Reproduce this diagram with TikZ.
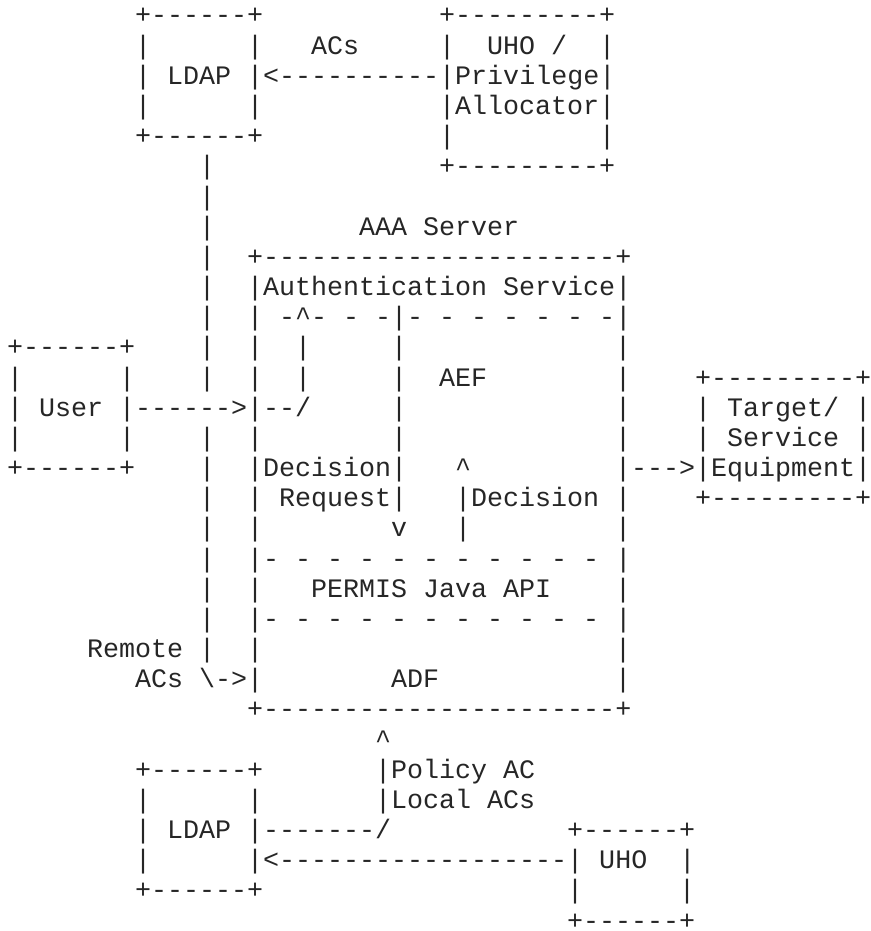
\documentclass[tikz,border=0pt]{standalone}
\usepackage{fontspec}
\setmonofont{Liberation Mono}
\usepackage{tikz}
\tikzset{ascii/.style={anchor=base west, inner sep=0pt, text=black!85, font=\ttfamily\fontsize{26.67}{30}\selectfont}}
\def\asc(#1,#2)#3{\node[ascii] (r#2c#1) at ({7+16*#1}, {24+30.17*#2}) {#3};}

\begin{document}
\begin{tikzpicture}[x=1pt, y=-1pt]
		%%%%% START %%%%%
		\useasboundingbox[fill=white] (0, 0) rectangle (870, 931);
		
		\asc(8,0){+------+} \asc(27,0){+---------+}
		\asc(8,1){|} \asc(15,1){|} \asc(19,1){ACs} \asc(27,1){|~~UHO~/~~|}
		\asc(8,2){| LDAP |<----------|Privilege|}
		\asc(8,3){|} \asc(15,3){|} \asc(27,3){|Allocator|}
		\asc(8,4){+------+} \asc(27,4){|} \asc(37,4){|}
		\asc(12,5){|} \asc(27,5){+---------+}
		\asc(12,6){|}
		\asc(12,7){|} \asc(22,7){AAA Server}
		\asc(12,8){|} \asc(15,8){+----------------------+}
		\asc(12,9){|} \asc(15,9){|Authentication Service|}
		\asc(12,10){|} \asc(15,10){| -\textasciicircum- - -|- - - - - - -|}
		
		\asc(0,11){+------+} \asc(12,11){|} \asc(15,11){|} \asc(18,11){|} \asc(24,11){|} \asc(38,11){|}
		\asc(0,12){|} \asc(7,12){|} \asc(12,12){|} \asc(15,12){|} \asc(18,12){|} \asc(24,12){|}
		\asc(27,12){AEF} \asc(38,12){|} \asc(43,12){+---------+}
		\asc(0,13){| User |------>|--/} \asc(24,13){|} \asc(38,13){|} \asc(43,13){| Target/ |}
		\asc(0,14){|} \asc(7,14){|} \asc(12,14){|} \asc(15,14){|} \asc(24,14){|} \asc(38,14){|}
		\asc(43,14){| Service |}
		\asc(0,15){+------+} \asc(12,15){|} \asc(15,15){|Decision|} \asc(28,15){\textasciicircum}
		\asc(38,15){|--->|Equipment|}
		\asc(12,16){|} \asc(15,16){| Request|} \asc(28,16){|Decision |} \asc(43,16){+---------+}
		\asc(12,17){|} \asc(15,17){|} \asc(24,17){v} \asc(28,17){|} \asc(38,17){|}
		
		\asc(12,18){|} \asc(15,18){|- - - - - - - - - - - |}
		\asc(12,19){|} \asc(15,19){|} \asc(19,19){PERMIS Java API} \asc(38,19){|}
		\asc(12,20){|} \asc(15,20){|- - - - - - - - - - - |}
		\asc(5,21){Remote |} \asc(15,21){|} \asc(38,21){|}
		\asc(8,22){ACs \textbackslash->|} \asc(24,22){ADF} \asc(38,22){|}
		\asc(15,23){+----------------------+}
		
		\asc(23,24){\textasciicircum}
		\asc(8,25){+------+} \asc(23,25){|Policy AC}
		\asc(8,26){|} \asc(15,26){|} \asc(23,26){|Local ACs}
		\asc(8,27){| LDAP |-------/} \asc(35,27){+------+}
		\asc(8,28){|} \asc(15,28){|<------------------| UHO~~|}
		\asc(8,29){+------+} \asc(35,29){|} \asc(42,29){|}
		\asc(35,30){+------+}
		%%%%% END %%%%%
\end{tikzpicture}
\end{document}
